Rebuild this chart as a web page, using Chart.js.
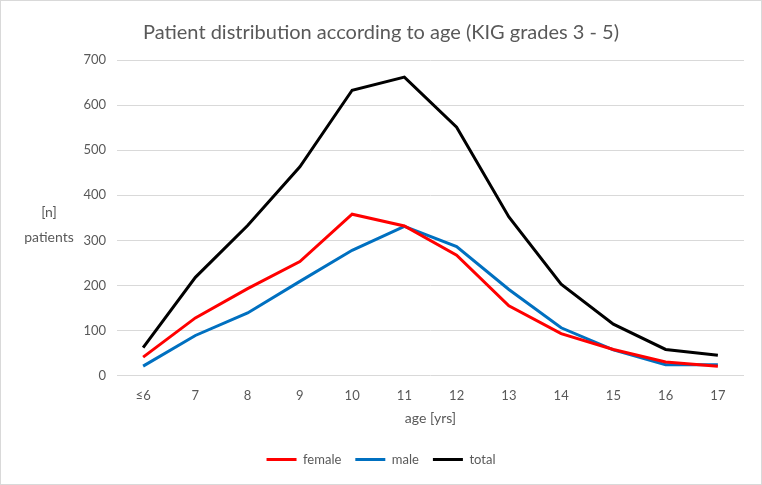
<!DOCTYPE html>
<html>
<head>
<meta charset="utf-8">
<script src="https://cdn.jsdelivr.net/npm/chart.js@4.4.1/dist/chart.umd.min.js"></script>
<style>
  html, body { margin: 0; padding: 0; background: #fff; }
  #wrap { position: relative; width: 760px; height: 483px; border: 1px solid #d9d9d9; }
</style>
</head>
<body>
<div id="wrap"><canvas id="chart" width="760" height="483"></canvas></div>
<script>
// Ages on the x axis
const ages = ["≤6", "7", "8", "9", "10", "11", "12", "13", "14", "15", "16", "17"];

// Patient counts per age
const female = [41, 128, 193, 253, 358, 332, 267, 155, 93, 58, 30, 21];
const male = [21, 89, 139, 209, 278, 331, 286, 191, 106, 57, 24, 24];
const total = [62, 218, 333, 463, 633, 662, 551, 352, 203, 114, 58, 45];

const yTicks = [0, 100, 200, 300, 400, 500, 600, 700];

const gray = "#595959";
const fontFamily = "Lato, 'Open Sans', sans-serif";

// Horizontal y-axis caption drawn on the left, as in the original
const yCaption = {
  id: "yCaption",
  afterDraw(chart) {
    const ctx = chart.ctx;
    ctx.save();
    ctx.fillStyle = gray;
    ctx.font = "14px " + fontFamily;
    ctx.textBaseline = "middle";
    ctx.textAlign = "center";
    ctx.fillText("[n]", 48, 211);
    ctx.fillText("patients", 48, 236);
    ctx.restore();
  },
};

function series(label, data, color) {
  return {
    label: label,
    data: data,
    borderColor: color,
    backgroundColor: color,
    pointBorderColor: color,
    pointBackgroundColor: color,
    pointBorderWidth: 3,
  };
}

new Chart(document.getElementById("chart"), {
  type: "line",
  data: {
    labels: ages,
    datasets: [
      series("female", female, "#ff0000"),
      series("male", male, "#0070c0"),
      series("total", total, "#000000"),
    ],
  },
  options: {
    responsive: false,
    animation: false,
    layout: { padding: { top: 6, left: 17, right: 17, bottom: 8 } },
    elements: {
      line: { borderWidth: 3, tension: 0 },
      point: { radius: 0, hoverRadius: 0 },
    },
    scales: {
      x: {
        offset: true,
        // pull the plot area down a little so the zero line sits where it does in the original
        afterFit(scale) { scale.height -= 5; },
        grid: { display: false, drawTicks: false },
        border: { display: false },
        ticks: { color: gray, font: { family: fontFamily, size: 13 }, padding: 12 },
        title: {
          display: true,
          text: "age [yrs]",
          color: gray,
          font: { family: fontFamily, size: 14 },
          padding: { top: 0, bottom: 12 },
        },
      },
      y: {
        min: 0,
        max: 700,
        afterFit(scale) { scale.width = 99; },
        afterBuildTicks(scale) { scale.ticks = yTicks.map((v) => ({ value: v })); },
        grid: { color: "#d9d9d9", lineWidth: 1, drawTicks: false },
        border: { display: false },
        ticks: { color: gray, font: { family: fontFamily, size: 13 }, padding: 11 },
      },
    },
    plugins: {
      title: {
        display: true,
        text: "Patient distribution according to age (KIG grades 3 - 5)",
        color: gray,
        font: { family: fontFamily, size: 20, weight: "normal" },
        padding: { top: 14, bottom: 15 },
      },
      legend: {
        position: "bottom",
        labels: {
          usePointStyle: true,
          pointStyle: "line",
          pointStyleWidth: 30,
          color: gray,
          font: { family: fontFamily, size: 13 },
          padding: 14,
        },
      },
      tooltip: { enabled: false },
    },
  },
  plugins: [yCaption],
});
</script>
</body>
</html>
